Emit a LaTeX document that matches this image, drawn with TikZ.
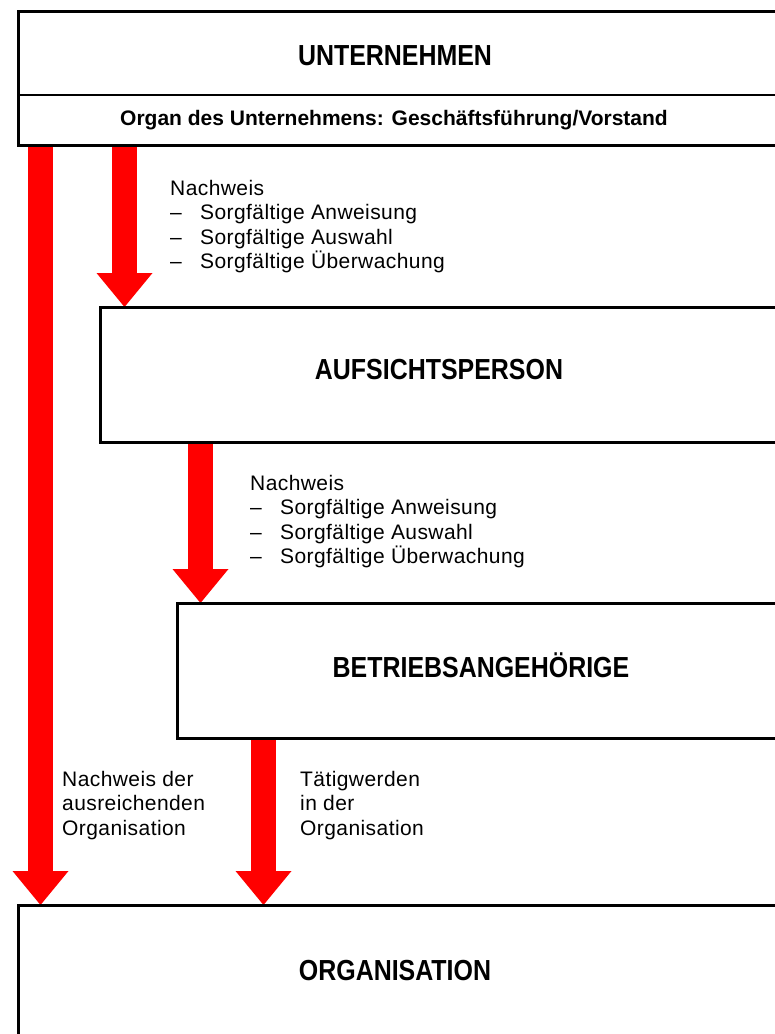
\documentclass[tikz,border=0pt]{standalone}
\usepackage{fontspec}
\setmainfont{Liberation Sans}
\newfontfamily\headfont[FakeStretch=0.86]{Liberation Sans}
\newfontfamily\notefont[LetterSpace=2]{Liberation Sans}
\usetikzlibrary{arrows.meta,backgrounds}

\tikzset{
  frame/.style={draw=black, line width=3pt, fill=white, inner sep=0pt,
    outer sep=0pt, anchor=north west},
  heading/.style={font=\headfont\bfseries\fontsize{29}{34}\selectfont,
    anchor=base, inner sep=0pt},
  subheading/.style={font=\bfseries\fontsize{21}{25}\selectfont,
    anchor=base, inner sep=0pt},
  % anchored at the baseline of the last line
  note/.style={font=\notefont\fontsize{21}{24.5}\selectfont, align=left,
    anchor=base west, inner sep=0pt},
  bigarrow/.style={draw=red, line width=25pt,
    -{Triangle[width=56pt 0 0, length=34pt 0 0, line width=0pt 0 0, fill=red]}},
}
\newcommand{\bullitem}{\makebox[30pt][l]{–}}

\begin{document}
\begin{tikzpicture}[x=1pt, y=-1pt]
  \useasboundingbox (0,0) rectangle (775,1034);
  \clip (0,0) rectangle (775,1034);

  % boxes (they run past the right edge of the page)
  \node[frame, minimum width=780pt, minimum height=134pt] (unt)  at (18,11)  {};
  \node[frame, minimum width=700pt, minimum height=135pt] (aufs) at (100,307) {};
  \node[frame, minimum width=620pt, minimum height=135pt] (betr) at (177,603) {};
  \node[frame, minimum width=780pt, minimum height=200pt] (org)  at (18,905)  {};

  % divider inside the company box
  \coordinate (divy) at (0,95);
  \draw[line width=2pt] (unt.west |- divy) -- (unt.east |- divy);

  % box titles
  \node[heading]    (tunt)  at (395,65)  {UNTERNEHMEN};
  \node[subheading] (torg)  at (394,125) {Organ des Unternehmens: Geschäftsführung/Vorstand};
  \node[heading]    (taufs) at (439,379) {AUFSICHTSPERSON};
  \node[heading]    (tbetr) at (481,677) {BETRIEBSANGEHÖRIGE};
  \node[heading]    (torga) at (395,980) {ORGANISATION};

  % arrow axes
  \coordinate (a1) at (40.5,0);
  \coordinate (a2) at (124.5,0);
  \coordinate (a3) at (200.5,0);
  \coordinate (a4) at (263.5,0);

  \begin{scope}[on background layer]
    \fill[white] (0,0) rectangle (775,1034);
    \draw[bigarrow] (unt.south -| a1)  -- (org.north -| a1);
    \draw[bigarrow] (unt.south -| a2)  -- (aufs.north -| a2);
    \draw[bigarrow] (aufs.south -| a3) -- (betr.north -| a3);
    \draw[bigarrow] (betr.south -| a4) -- (org.north -| a4);
  \end{scope}

  % arrow labels
  \node[note] (n1) at (170,268.5)
    {Nachweis\\\bullitem Sorgfältige Anweisung\\\bullitem Sorgfältige Auswahl\\\bullitem Sorgfältige Überwachung};
  \node[note] (n2) at (250,563.5)
    {Nachweis\\\bullitem Sorgfältige Anweisung\\\bullitem Sorgfältige Auswahl\\\bullitem Sorgfältige Überwachung};
  \node[note] (n3) at (62,835)  {Nachweis der\\ausreichenden\\Organisation};
  \node[note] (n4) at (300,835) {Tätigwerden\\in der\\Organisation};
\end{tikzpicture}
\end{document}
